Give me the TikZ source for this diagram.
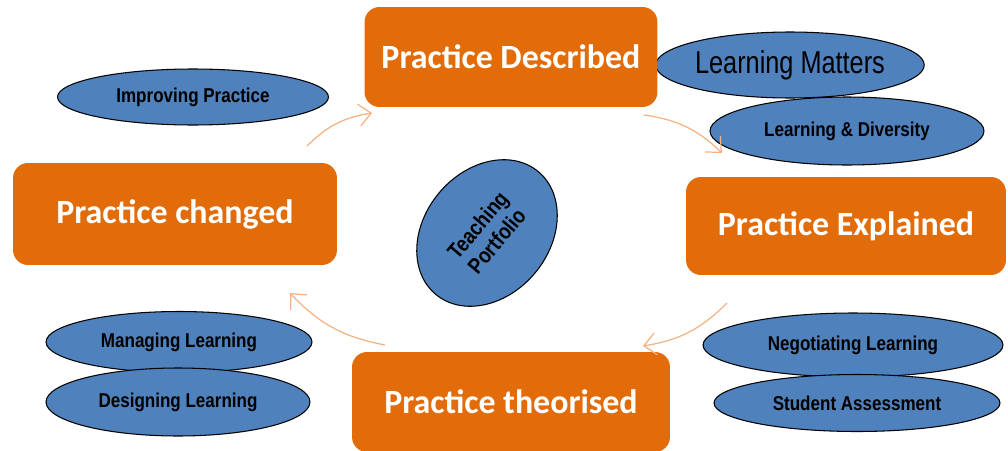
\documentclass[tikz,border=0pt]{standalone}
\usepackage{fontspec}
\usetikzlibrary{shapes.geometric,arrows.meta}
\newfontfamily\boxfont{Carlito}
\newfontfamily\ellfont[FakeStretch=0.85]{Liberation Sans}
\newfontfamily\bigellfont[FakeStretch=0.8]{Liberation Sans}
\definecolor{stageorange}{HTML}{E36C0A}
\definecolor{topicblue}{HTML}{4F81BD}
\definecolor{cyclearrow}{HTML}{F4B183}
\begin{document}
\begin{tikzpicture}[x=0.02cm,y=-0.02cm,
    stage/.style={rectangle, rounded corners=0.3cm, fill=stageorange, text=white,
        font=\boxfont\bfseries\fontsize{19.3}{22}\selectfont, inner sep=0pt},
    topic/.style={ellipse, draw=black, line width=0.6pt, fill=topicblue, inner sep=0pt,
        font=\ellfont\bfseries\fontsize{11.4}{13}\selectfont},
    cycle/.style={cyclearrow, line width=0.7pt, -{Straight Barb[length=2.4mm,width=4.4mm]}, bend left=18}]
    \useasboundingbox (0,0) rectangle (1008,450);
    % topics round the cycle
    \node[topic, minimum width=5.42cm, minimum height=1.12cm] (impr) at (193,97) {Improving Practice};
    \node[topic, minimum width=5.26cm, minimum height=1.32cm,
        font=\bigellfont\fontsize{18}{20}\selectfont] (lmat) at (790,65) {Learning Matters};
    \node[topic, minimum width=5.48cm, minimum height=1.36cm] (ldiv) at (847,131) {Learning \& Diversity};
    \node[topic, minimum width=6.0cm, minimum height=1.28cm] (nego) at (853,345) {Negotiating Learning};
    \node[topic, minimum width=5.72cm, minimum height=1.14cm] (sass) at (857,403) {Student Assessment};
    \node[topic, minimum width=5.32cm, minimum height=1.22cm] (mana) at (179,342) {Managing Learning};
    \node[topic, minimum width=5.28cm, minimum height=1.36cm] (desi) at (178,402) {Designing Learning};
    \node[topic, minimum width=3.2cm, minimum height=2.5cm, rotate=50, align=center,
        font=\ellfont\bfseries\fontsize{12.5}{14}\selectfont] (port) at (487,233) {Teaching\\Portfolio};
    % stages
    \node[stage, minimum width=5.86cm, minimum height=2.0cm] (desc) at (511,57) {Practice Described};
    \node[stage, minimum width=6.4cm, minimum height=1.96cm] (expl) at (846,226) {Practice Explained};
    \node[stage, minimum width=6.36cm, minimum height=2.0cm] (theo) at (511,402) {Practice theorised};
    \node[stage, minimum width=6.48cm, minimum height=2.04cm] (chg) at (175,214) {Practice changed};
    % cycle arrows
    \coordinate (c1a) at (307,146);
    \coordinate (c1b) at (372,113);
    \coordinate (c2a) at (644,115);
    \coordinate (c2b) at (722,153);
    \coordinate (c3a) at (727,303);
    \coordinate (c3b) at (643,346);
    \coordinate (c4a) at (385,345);
    \coordinate (c4b) at (290,293);
    \draw[cycle] (c1a) to (c1b);
    \draw[cycle] (c2a) to (c2b);
    \draw[cycle] (c3a) to (c3b);
    \draw[cycle] (c4a) to (c4b);
\end{tikzpicture}
\end{document}
